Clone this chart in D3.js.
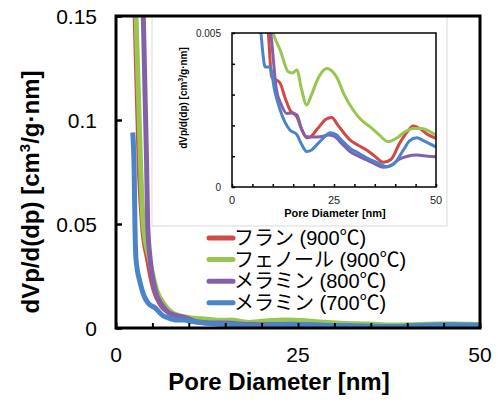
<!DOCTYPE html>
<html>
<head>
<meta charset="utf-8">
<script src="https://cdn.jsdelivr.net/npm/d3@7"></script>
<style>
  body { margin: 0; background: #fff; }
  text { font-family: "Liberation Sans", Arial, "Noto Sans CJK JP", sans-serif; }
</style>
</head>
<body>
<div id="chart"></div>
<script>
// series: [pore diameter (nm), dVp/d(dp)]
const furan900 = [[2.4,0.165],[2.5,0.15],[3.07,0.076],[3.5,0.0495],[4.2,0.033],[5.1,0.018],[6.0,0.011],[7.0,0.0075],[8.0,0.0058],[8.9,0.005],[9.7,0.00358],[11.8,0.00337],[13,0.0029],[14.2,0.0025],[15.9,0.00228],[17,0.0019],[18.3,0.0016],[19.1,0.00162],[21,0.0019],[23,0.0022],[24.4,0.00226],[26,0.002],[28.9,0.00153],[31,0.00135],[33,0.0012],[35,0.001],[37.1,0.0008],[39,0.0009],[41,0.0014],[43,0.0018],[44.4,0.00198],[46,0.0019],[48,0.0017],[50,0.00158]];
const phenol900 = [[2.65,0.165],[2.75,0.15],[3.4,0.076],[3.75,0.0495],[4.6,0.033],[5.6,0.018],[6.7,0.011],[8.3,0.0063],[10.1,0.005],[11.8,0.00445],[13.8,0.00374],[14.8,0.0037],[15.9,0.0038],[17,0.0032],[18.3,0.00266],[19.5,0.003],[21,0.0035],[23.2,0.00385],[25.6,0.00358],[27.5,0.003],[29.7,0.0025],[31.5,0.0022],[33.8,0.00196],[36,0.0017],[38.3,0.00147],[40.5,0.0016],[42.5,0.0018],[44.4,0.0019],[46.5,0.0019],[48.5,0.0018],[50,0.00169]];
const melamine800 = [[3.6,0.165],[3.75,0.15],[4.2,0.08],[4.35,0.05],[4.7,0.033],[5.4,0.018],[6.3,0.011],[7.2,0.0075],[8.5,0.0058],[9.5,0.005],[10.9,0.00315],[12,0.0027],[13.4,0.00239],[14.6,0.0024],[15.9,0.00234],[17,0.0019],[18.3,0.00163],[20,0.00162],[21.6,0.00163],[23.6,0.00169],[25,0.00165],[27,0.0014],[28.9,0.00115],[31,0.001],[33,0.00088],[35,0.00075],[37.1,0.00064],[39,0.0007],[41,0.0009],[43,0.001],[45.3,0.00104],[48,0.001],[50,0.00098]];
const melamine700 = [[2.3,0.094],[2.5,0.075],[2.6,0.05],[2.75,0.033],[3.3,0.022],[3.9,0.015],[4.4,0.012],[5.4,0.0096],[6.5,0.0058],[7.1,0.005],[7.6,0.0043],[8.1,0.0039],[9.3,0.0039],[10.5,0.0031],[11.8,0.0025],[13,0.0021],[14.2,0.00185],[15.9,0.0017],[17,0.0014],[18.3,0.00115],[19.5,0.0012],[21,0.0014],[22.5,0.0016],[24,0.00176],[25.5,0.0017],[27,0.0015],[29,0.00125],[31,0.0011],[33,0.00095],[35.5,0.0008],[37.9,0.00066],[40,0.0008],[42,0.0012],[43.5,0.0015],[45.3,0.0016],[47,0.0015],[48.5,0.0014],[50,0.0013]];

const seriesNames = ["フラン (900℃)", "フェノール (900℃)", "メラミン (800℃)", "メラミン (700℃)"];
const seriesColors = ["#d24a45", "#98c64f", "#8560aa", "#4a85c9"];
const mainWidths = [3, 5, 5, 5];

const xTicks = [0, 25, 50];
const mainYTicks = [0, 0.05, 0.1, 0.15];
const insetYTicks = [0, 0.005];

const allSeries = [furan900, phenol900, melamine800, melamine700];

const W = 498, H = 401;
const svg = d3.select("#chart").append("svg")
    .attr("width", W)
    .attr("height", H);

// main plot area
const main = {left: 116, right: 480, top: 16, bottom: 328};

const x = d3.scaleLinear().domain([0, 50]).range([main.left, main.right]);
const y = d3.scaleLinear().domain([0, 0.15]).range([main.bottom, main.top]);

svg.append("clipPath").attr("id", "mainClip")
    .append("rect")
    .attr("x", main.left).attr("y", main.top)
    .attr("width", main.right - main.left).attr("height", main.bottom - main.top);

const line = d3.line()
    .x(d => x(d[0]))
    .y(d => y(d[1]))
    .curve(d3.curveMonotoneX);

svg.append("g").attr("clip-path", "url(#mainClip)")
    .selectAll("path")
    .data(allSeries)
    .join("path")
    .attr("d", line)
    .attr("fill", "none")
    .attr("stroke", (d, i) => seriesColors[i])
    .attr("stroke-width", (d, i) => mainWidths[i])
    .attr("stroke-linejoin", "round");

// axes (ticks inside)
const xAxis = d3.axisBottom(x).tickValues(d3.range(0, 51, 5)).tickSize(-5).tickFormat("");
const yAxis = d3.axisLeft(y).tickValues(mainYTicks).tickSize(-6).tickFormat("");

svg.append("g").attr("transform", `translate(0,${main.bottom})`).call(xAxis)
    .call(g => g.selectAll("line").attr("stroke", "#000").attr("stroke-width", 2))
    .call(g => g.select(".domain").remove());
svg.append("g").attr("transform", `translate(${main.left},0)`).call(yAxis)
    .call(g => g.selectAll("line").attr("stroke", "#000").attr("stroke-width", 2.5))
    .call(g => g.select(".domain").remove());

// tick labels
svg.append("g").selectAll("text")
    .data(xTicks)
    .join("text")
    .attr("x", d => x(d))
    .attr("y", 362)
    .attr("text-anchor", "middle")
    .attr("font-size", 21)
    .text(d => d);

svg.append("g").selectAll("text")
    .data(mainYTicks)
    .join("text")
    .attr("x", 97)
    .attr("y", d => y(d) + 7.5)
    .attr("text-anchor", "end")
    .attr("font-size", 21)
    .text(d => d);

// axis titles
svg.append("text")
    .attr("x", 279)
    .attr("y", 390)
    .attr("text-anchor", "middle")
    .attr("font-size", 24)
    .attr("font-weight", "bold")
    .text("Pore Diameter [nm]");

const yTitle = svg.append("text")
    .attr("transform", `translate(39,192) rotate(-90)`)
    .attr("text-anchor", "middle")
    .attr("font-size", 24)
    .attr("font-weight", "bold");
yTitle.append("tspan").text("dVp/d(dp) [cm");
yTitle.append("tspan").attr("font-size", 15).attr("dy", -9).text("3");
yTitle.append("tspan").attr("dy", 9).text("/g·nm]");

// inset panel
const panel = {left: 152, right: 447, top: 16, bottom: 226};
svg.append("rect")
    .attr("x", panel.left).attr("y", panel.top)
    .attr("width", panel.right - panel.left).attr("height", panel.bottom - panel.top)
    .attr("fill", "#fff")
    .attr("stroke", "#d9d9d9")
    .attr("stroke-width", 1);

// frame of main plot
svg.append("rect")
    .attr("x", main.left).attr("y", main.top)
    .attr("width", main.right - main.left).attr("height", main.bottom - main.top)
    .attr("fill", "none")
    .attr("stroke", "#000")
    .attr("stroke-width", 3);

// inset plot
const inset = {left: 232, right: 436, top: 33, bottom: 187};
const xi = d3.scaleLinear().domain([0, 50]).range([inset.left, inset.right]);
const yi = d3.scaleLinear().domain([0, 0.005]).range([inset.bottom, inset.top]);

svg.append("clipPath").attr("id", "insetClip")
    .append("rect")
    .attr("x", inset.left).attr("y", inset.top)
    .attr("width", inset.right - inset.left).attr("height", inset.bottom - inset.top);

const lineInset = d3.line()
    .x(d => xi(d[0]))
    .y(d => yi(d[1]))
    .curve(d3.curveMonotoneX);

svg.append("g").attr("clip-path", "url(#insetClip)")
    .selectAll("path")
    .data(allSeries)
    .join("path")
    .attr("d", lineInset)
    .attr("fill", "none")
    .attr("stroke", (d, i) => seriesColors[i])
    .attr("stroke-width", 3)
    .attr("stroke-linejoin", "round");

svg.append("rect")
    .attr("x", inset.left).attr("y", inset.top)
    .attr("width", inset.right - inset.left).attr("height", inset.bottom - inset.top)
    .attr("fill", "none")
    .attr("stroke", "#000")
    .attr("stroke-width", 1.5);

svg.append("g").attr("transform", `translate(0,${inset.bottom})`)
    .call(d3.axisBottom(xi).tickValues(d3.range(0, 51, 5)).tickSize(-3).tickFormat(""))
    .call(g => g.selectAll("line").attr("stroke", "#000").attr("stroke-width", 1.5))
    .call(g => g.select(".domain").remove());
svg.append("g").attr("transform", `translate(${inset.left},0)`)
    .call(d3.axisLeft(yi).tickValues(d3.range(0, 0.0051, 0.001)).tickSize(-3).tickFormat(""))
    .call(g => g.selectAll("line").attr("stroke", "#000").attr("stroke-width", 1.5))
    .call(g => g.select(".domain").remove());

svg.append("g").selectAll("text")
    .data(xTicks)
    .join("text")
    .attr("x", d => xi(d))
    .attr("y", 204)
    .attr("text-anchor", "middle")
    .attr("font-size", 11)
    .attr("fill", "#222")
    .text(d => d);

svg.append("g").selectAll("text")
    .data(insetYTicks)
    .join("text")
    .attr("x", 221)
    .attr("y", d => yi(d) + 4)
    .attr("text-anchor", "end")
    .attr("font-size", 10)
    .attr("fill", "#222")
    .text(d => d);

svg.append("text")
    .attr("x", 335)
    .attr("y", 217)
    .attr("text-anchor", "middle")
    .attr("font-size", 11)
    .attr("font-weight", "bold")
    .text("Pore Diameter [nm]");

const yiTitle = svg.append("text")
    .attr("transform", `translate(187,98) rotate(-90)`)
    .attr("text-anchor", "middle")
    .attr("font-size", 10)
    .attr("font-weight", "bold");
yiTitle.append("tspan").text("dVp/d(dp) [cm");
yiTitle.append("tspan").attr("font-size", 7).attr("dy", -4).text("3");
yiTitle.append("tspan").attr("dy", 4).text("/g·nm]");

// legend
const legend = svg.append("g").attr("transform", "translate(209,238)");
const rows = legend.selectAll("g")
    .data(seriesNames)
    .join("g")
    .attr("transform", (d, i) => `translate(0,${i * 21.6})`);
rows.append("line")
    .attr("x1", 0).attr("x2", 24)
    .attr("stroke", (d, i) => seriesColors[i])
    .attr("stroke-width", 5)
    .attr("stroke-linecap", "round");
rows.append("text")
    .attr("x", 25)
    .attr("y", 7)
    .attr("font-size", 20)
    .text(d => d);
</script>
</body>
</html>
